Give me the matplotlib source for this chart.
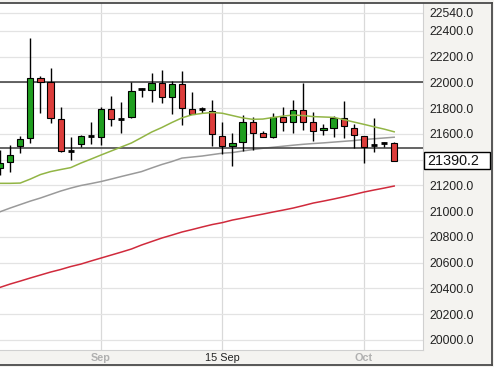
import numpy as np
import matplotlib
matplotlib.use("Agg")
import matplotlib.pyplot as plt
from matplotlib.patches import Rectangle
from matplotlib.lines import Line2D
from matplotlib.transforms import blended_transform_factory

plt.rcParams['font.family'] = ['Liberation Sans', 'DejaVu Sans']

# ---- data -----------------------------------------------------------------
opens = [21332, 21379, 21508, 21565, 22031, 22000, 21715, 21472, 21519, 21576,
         21573, 21790, 21722, 21728, 21944, 21940, 21997, 21884, 21984, 21790,
         21788, 21780, 21585, 21505, 21534, 21689, 21604, 21578, 21733, 21694,
         21785, 21689, 21630, 21648, 21720, 21643, 21585, 21506, 21524, 21526]
highs = [21474, 21513, 21583, 22342, 22049, 22109, 21811, 21578, 21591, 21694,
         21811, 21896, 21849, 22000, 21953, 22070, 22095, 22010, 22090, 21922,
         21811, 21863, 21694, 21604, 21746, 21731, 21622, 21759, 21806, 21863,
         21997, 21767, 21676, 21741, 21857, 21676, 21585, 21725, 21534, 21539]
lows = [21280, 21306, 21449, 21531, 21759, 21686, 21461, 21397, 21500, 21521,
        21513, 21661, 21604, 21725, 21884, 21849, 21837, 21754, 21668, 21752,
        21759, 21508, 21443, 21352, 21469, 21474, 21573, 21565, 21624, 21609,
        21630, 21547, 21591, 21578, 21565, 21492, 21371, 21457, 21500, 21390]
closes = [21376, 21436, 21557, 22031, 22005, 21720, 21469, 21466, 21583, 21580,
          21790, 21713, 21718, 21932, 21948, 21997, 21884, 21984, 21798, 21752,
          21792, 21596, 21505, 21526, 21689, 21604, 21578, 21733, 21694, 21785,
          21694, 21624, 21645, 21720, 21661, 21591, 21500, 21510, 21528, 21390.2]

ma_green = [21216, 21216, 21218, 21249, 21284, 21307, 21323, 21338, 21373, 21404,
            21436, 21467, 21498, 21529, 21571, 21614, 21649, 21688, 21724, 21748,
            21759, 21766, 21760, 21742, 21724, 21713, 21715, 21727, 21738, 21746,
            21742, 21734, 21731, 21728, 21711, 21692, 21674, 21655, 21637, 21616]
ma_grey = [20995, 21024, 21051, 21078, 21102, 21129, 21156, 21179, 21199, 21214,
           21230, 21249, 21269, 21288, 21307, 21335, 21362, 21385, 21412, 21420,
           21428, 21439, 21450, 21455, 21467, 21478, 21488, 21496, 21504, 21512,
           21519, 21525, 21530, 21536, 21542, 21548, 21556, 21562, 21568, 21574]
ma_red = [20408, 20434, 20457, 20481, 20504, 20527, 20547, 20570, 20589, 20613,
          20636, 20659, 20682, 20706, 20737, 20764, 20791, 20814, 20838, 20857,
          20877, 20896, 20911, 20931, 20946, 20962, 20977, 20993, 21008, 21024,
          21043, 21063, 21078, 21094, 21111, 21129, 21148, 21164, 21179, 21195]

level_lines = [22000, 21488]
last_price = 21390.2

y_ticks = [20000, 20200, 20400, 20600, 20800, 21000, 21200, 21400,
           21600, 21800, 22000, 22200, 22400, 22540]
x_tick_pos = [10, 22, 36]
x_tick_labels = ['Sep', '15 Sep', 'Oct']

# ---- figure -----------------------------------------------------------------
W, H = 494, 367
fig = plt.figure(figsize=(W / 100, H / 100), dpi=100, facecolor='#f4f3f0')
ax = fig.add_axes([0, 17 / H, 423 / W, 347 / H])
ax.set_facecolor('white')
ax.set_xlim(0, 41.85)
ax.set_ylim(19922, 22616)

GREEN = '#1f9e1f'
RED = '#dc3d3b'
BW = 0.62

idx = np.arange(len(opens))
for i, o, h, l, c in zip(idx, opens, highs, lows, closes):
    ax.plot([i, i], [l, h], color='black', lw=1.0, zorder=3, solid_capstyle='butt')
    if abs(c - o) < 15:
        ax.plot([i - BW / 2, i + BW / 2], [c, c], color='black', lw=2.0, zorder=4,
                solid_capstyle='butt')
    else:
        col = GREEN if c > o else RED
        ax.add_patch(Rectangle((i - BW / 2, min(o, c)), BW, abs(c - o),
                               facecolor=col, edgecolor='black', lw=0.8, zorder=4))

ax.plot(idx, ma_green, color='#92b545', lw=1.1, zorder=5)
ax.plot(idx, ma_grey, color='#9a9a9a', lw=1.1, zorder=2)
ax.plot(idx, ma_red, color='#d02a3c', lw=1.1, zorder=2)

for lv in level_lines:
    ax.axhline(lv, color='#3a3a3a', lw=1.1, zorder=2.8)

# grid
ax.set_yticks(y_ticks)
ax.set_yticklabels(['' if t == 21400 else f'{t:.1f}' for t in y_ticks])
ax.set_xticks(x_tick_pos)
ax.set_xticklabels(x_tick_labels)
ax.grid(True, color='#e3e3e3', lw=0.9)
ax.xaxis.grid(True, color='#d9d9d9', lw=0.9)
ax.set_axisbelow(True)

ax.yaxis.tick_right()
ax.tick_params(axis='y', length=0, pad=4.5, labelsize=8.8, labelcolor='#222222')
ax.tick_params(axis='x', length=0, pad=2.0, labelsize=7.8)
for lab, col in zip(ax.get_xticklabels(), ['#b0b0b0', '#222222', '#b0b0b0']):
    lab.set_color(col)
    if col != '#222222':
        lab.set_fontweight('bold')

for s in ['left', 'top']:
    ax.spines[s].set_visible(False)
for s in ['right', 'bottom']:
    ax.spines[s].set_color('#d0d0d0')
    ax.spines[s].set_linewidth(0.8)

# last price box
tr = blended_transform_factory(fig.transFigure, ax.transData)
box_h = 17.4 / 0.1288
ax.add_patch(Rectangle((423.5 / W, last_price - box_h / 2 + 5), 66.5 / W, box_h,
                       transform=tr, facecolor='white', edgecolor='black', lw=1.0,
                       clip_on=False, zorder=10))
ax.text(427.5 / W, last_price, f'{last_price:.1f}', transform=tr, ha='left',
        va='center', fontsize=10.4, color='#111111', zorder=11, clip_on=False)

# outer frame
fig.add_artist(Line2D([0, 491.5 / W], [1 - 3 / H, 1 - 3 / H], color='#4a4a4a', lw=1.3))
fig.add_artist(Line2D([491.5 / W, 491.5 / W], [1 - 3 / H, 1 - 365 / H], color='#4a4a4a', lw=1.3))
fig.add_artist(Line2D([0, 491.5 / W], [1 - 365 / H, 1 - 365 / H], color='#4a4a4a', lw=1.3))

fig.savefig('out.png', dpi=100, facecolor=fig.get_facecolor())
